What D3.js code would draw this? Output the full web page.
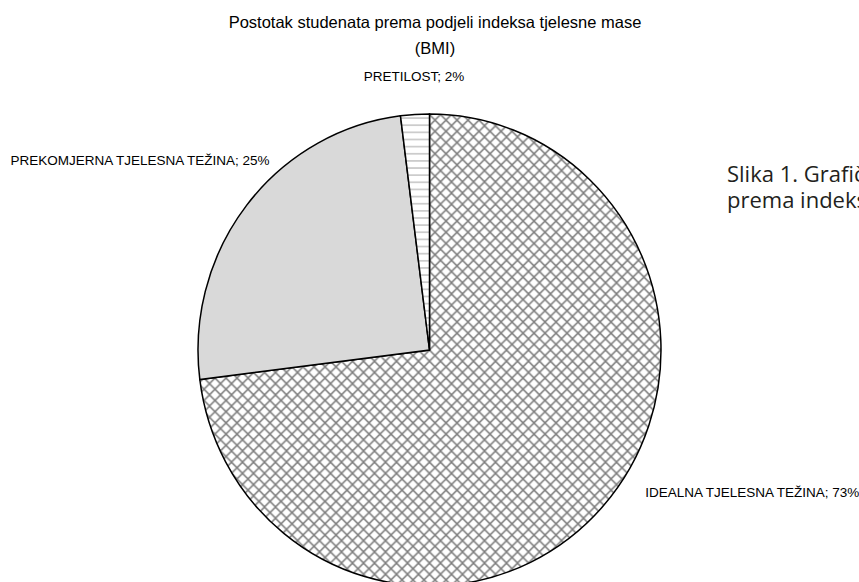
<!DOCTYPE html>
<html>
<head>
<meta charset="utf-8">
<script src="https://cdn.jsdelivr.net/npm/d3@7"></script>
<style>
  html, body { margin: 0; padding: 0; background: #fff; overflow: hidden; }
  svg { display: block; }
</style>
</head>
<body>
<script>
// ---- data ----
const categories = ["IDEALNA TJELESNA TEŽINA", "PREKOMJERNA TJELESNA TEŽINA", "PRETILOST"];
const values = [73, 25, 2];
const titleLines = ["Postotak studenata prema podjeli indeksa tjelesne mase", "(BMI)"];
const captionLines = ["Slika 1. Grafički prikaz studenata", "prema indeksu tjelesne mase"];

// ---- layout ----
const W = 859, H = 582;
const cx = 429.5, cy = 350, rx = 231.5, ry = 236;
const fills = ["url(#cross)", "#d9d9d9", "url(#hlines)"];
// label offsets from each slice's outer mid-point: [dx, dy, anchor]
const labelOffsets = [[42, -9, "start"], [23, -40, "end"], [-1, -33, "middle"]];
const P = 11; // crosshatch period

const svg = d3.select("body").append("svg").attr("width", W).attr("height", H);
svg.append("rect").attr("width", W).attr("height", H).attr("fill", "#fff");

const defs = svg.append("defs");
const cross = defs.append("pattern").attr("id", "cross").attr("patternUnits", "userSpaceOnUse")
  .attr("width", P).attr("height", P);
cross.append("rect").attr("width", P).attr("height", P).attr("fill", "#fff");
cross.append("path")
  .attr("d", `M-2,-2L${P + 2},${P + 2}M-2,${P + 2}L${P + 2},-2`)
  .attr("stroke", "#7d7d7d").attr("stroke-width", 1.5).attr("fill", "none");
const hl = defs.append("pattern").attr("id", "hlines").attr("patternUnits", "userSpaceOnUse")
  .attr("width", 7).attr("height", 7);
hl.append("rect").attr("width", 7).attr("height", 7).attr("fill", "#fff");
hl.append("line").attr("x1", 0).attr("x2", 7).attr("y1", 3.5).attr("y2", 3.5)
  .attr("stroke", "#c4c4c4").attr("stroke-width", 1.5);

const data = categories.map((c, i) => ({ cat: c, value: values[i], i }));
const pie = d3.pie().value(d => d.value).sort(null).startAngle(0).endAngle(2 * Math.PI);
const arcs = pie(data);
const arc = d3.arc().innerRadius(0).outerRadius(rx);

const g = svg.append("g").attr("transform", `translate(${cx},${cy}) scale(1,${ry / rx})`);
g.selectAll("path").data(arcs).join("path")
  .attr("d", arc)
  .attr("fill", d => fills[d.data.i])
  .attr("stroke", "#000")
  .attr("stroke-width", 1.5)
  .attr("vector-effect", "non-scaling-stroke")
  .attr("stroke-linejoin", "miter");

// title
svg.append("g").selectAll("text").data(titleLines).join("text")
  .attr("x", 435).attr("y", (d, i) => 28 + i * 26)
  .attr("text-anchor", "middle")
  .attr("font-family", "Liberation Sans, Arial, sans-serif")
  .attr("font-size", 16.5).attr("fill", "#000")
  .text(d => d);

// slice labels
svg.append("g").selectAll("text").data(arcs).join("text")
  .each(function (d) {
    const a = (d.startAngle + d.endAngle) / 2;
    const px = cx + rx * Math.sin(a), py = cy - ry * Math.cos(a);
    const o = labelOffsets[d.data.i];
    d3.select(this).attr("x", px + o[0]).attr("y", py + o[1]).attr("text-anchor", o[2]);
  })
  .attr("font-family", "Liberation Sans, Arial, sans-serif")
  .attr("font-size", 13.5).attr("fill", "#000")
  .text(d => `${d.data.cat}; ${d.data.value}%`);

// caption (cut by the page edge, as in the source)
svg.append("g").selectAll("text").data(captionLines).join("text")
  .attr("x", 727).attr("y", (d, i) => 182 + i * 26)
  .attr("font-family", "Open Sans, sans-serif")
  .attr("font-size", 22).attr("fill", "#231f20")
  .text(d => d);
</script>
</body>
</html>
